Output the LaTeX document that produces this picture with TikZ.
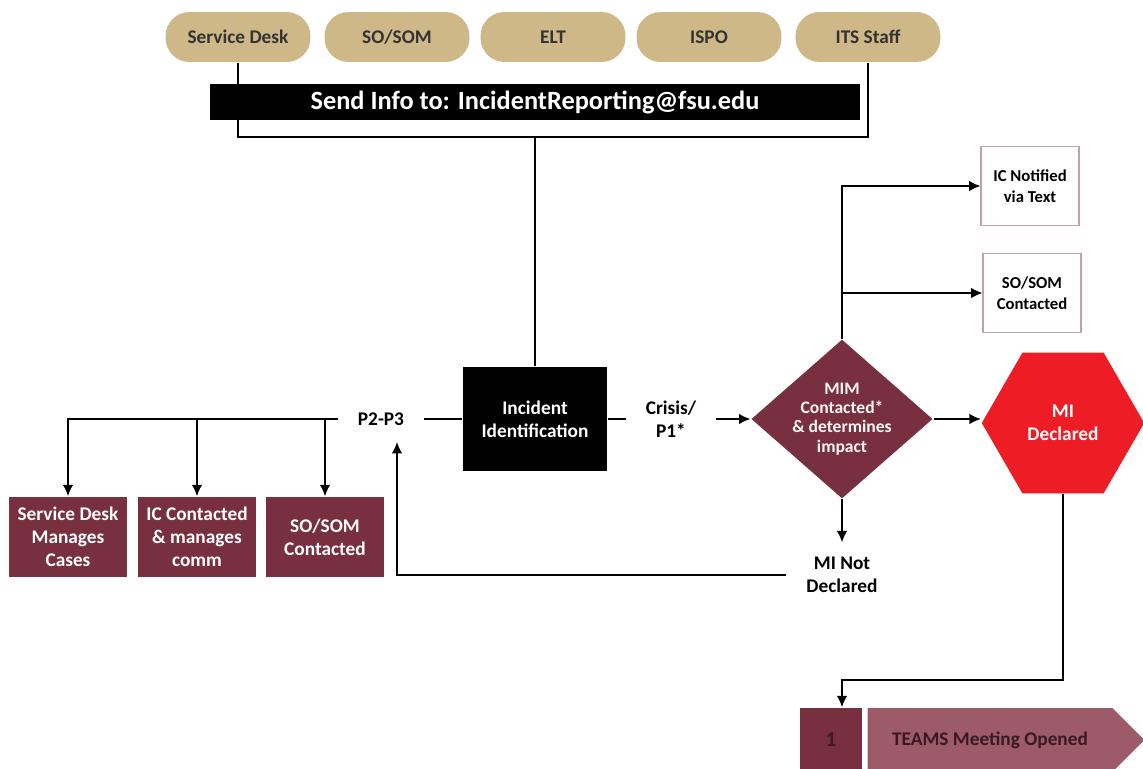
\documentclass[tikz,border=0pt]{standalone}
\usepackage{fontspec}
\setmainfont{Carlito}
\usetikzlibrary{arrows.meta,calc,positioning,shapes.geometric,shapes.symbols}
\definecolor{garnet}{HTML}{782F40}
\definecolor{gold}{HTML}{CEB888}
\definecolor{alarm}{HTML}{EE1C25}
\definecolor{mauve}{HTML}{9D5B69}
\definecolor{ink}{HTML}{3A1A22}
\tikzset{every picture/.style={
  >={Latex[length=6.5pt,width=6pt]}   % filled triangle arrows.
  }
}

\begin{document}
\begin{tikzpicture}[x=0.02cm,y=-0.02cm,line width=0.9pt,
  font=\bfseries\fontsize{11}{13}\selectfont,
  source/.style={fill=gold,text=black!80,rounded corners=0.48cm,
    minimum width=2.9cm,minimum height=1cm},
  blackbox/.style={fill=black,text=white,align=center,
    minimum width=2.88cm,minimum height=2.1cm},
  garnetbox/.style={fill=garnet,text=white,align=center,inner sep=1pt,
    minimum width=2.36cm,minimum height=1.6cm},
  notebox/.style={draw=garnet!45,line width=0.6pt,align=center,
    font=\bfseries\fontsize{9.5}{12}\selectfont,
    minimum width=1.96cm,minimum height=1.58cm},
  label/.style={align=center,inner xsep=11pt,inner ysep=8pt}]

  \useasboundingbox (0,0) rectangle (1143,768);

  % who reports
  \node[source] (sd)   at (238,37) {Service Desk};
  \node[source] (som)  at (397,37) {SO/SOM};
  \node[source] (elt)  at (553,37) {ELT};
  \node[source] (ispo) at (709,37) {ISPO};
  \node[source] (its)  at (868,37) {ITS Staff};

  \coordinate (join) at (535,137);
  \draw (sd.south) |- (join) -| (its.south);
  \node[fill=black,text=white,minimum width=13cm,minimum height=0.72cm,
    font=\bfseries\fontsize{15}{17}\selectfont] (mail) at (535,102)
    {Send Info to: IncidentReporting@fsu.edu};

  % triage
  \node[blackbox] (ii) at (535,419) {Incident\\Identification};
  \draw (join) -- (ii.north);

  \node[label,inner ysep=9pt] (p23) at (381,419) {P2-P3};
  \draw (ii.west) -- (p23.east);
  \node[garnetbox] (sdm) at (68,537)  {Service Desk\\Manages\\Cases};
  \node[garnetbox] (icc) at (197,537) {IC Contacted\\\& manages\\comm};
  \node[garnetbox] (sos) at (325,537) {SO/SOM\\Contacted};
  \foreach \n in {sdm,icc,sos}
    \draw[->] (p23.west) -| (\n.north);

  \node[label] (crisis) at (671,419) {Crisis/\\P1*};
  \draw (ii.east) -- (crisis.west);

  \node[diamond,fill=garnet,text=white!88!pink,align=center,inner sep=0pt,
    aspect=1.14,minimum width=3.6cm,minimum height=3.16cm,
    font=\bfseries\fontsize{10}{11}\selectfont] (mim) at (842,419)
    {MIM\\Contacted*\\\& determines\\impact};
  \draw[->] (crisis.east) -- (mim.west);

  \node[notebox] (icn)  at (1030,186) {IC Notified\\via Text};
  \node[notebox] (sosc) at (1032,293) {SO/SOM\\Contacted};
  \draw[->] (mim.north) |- (icn.west);
  \draw[->] (mim.north) |- (sosc.west);

  \node[regular polygon,regular polygon sides=6,minimum size=3.25cm,
    inner sep=0pt,fill=alarm,text=white,align=center] (mid) at (1063,423)
    {MI\\Declared};
  \draw[->] (mim.east) -- (mim.east -| mid.west);

  \node[label] (mind) at (842,575) {MI Not\\Declared};
  \draw[->] (mim.south) -- (mind.north);
  \draw[->] (mind.west) -| ([xshift=0.32cm]p23.south);

  % major incident steps
  \node[fill=garnet,text=ink,minimum width=1.24cm,minimum height=1.28cm,
    font=\bfseries\fontsize{12}{14}\selectfont] (one) at (831,740) {1};
  \node[signal,signal to=east,fill=mauve,text=ink,minimum width=5.54cm,
    minimum height=1.28cm] (teams) at (990,740) {TEAMS Meeting Opened};
  \coordinate (bend) at (842,680);
  \draw[->] (mid.south) |- (bend) -- (bend |- one.north);
\end{tikzpicture}
\end{document}
